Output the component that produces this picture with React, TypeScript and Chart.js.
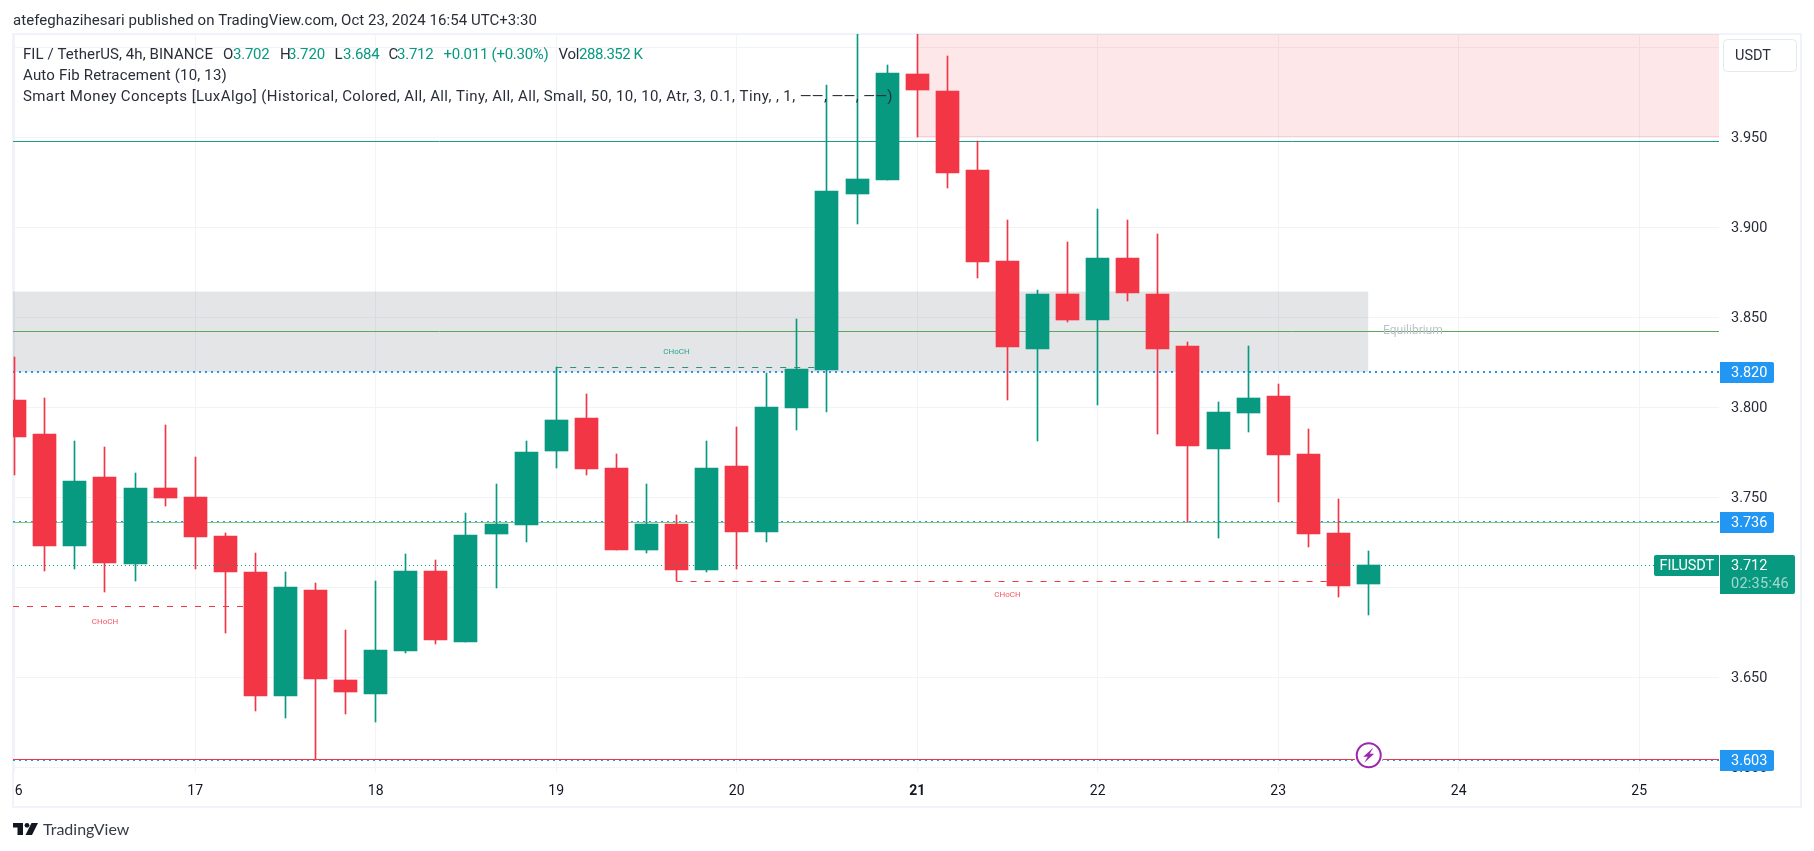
import React, { useEffect, useRef } from "react";
import { Chart, registerables } from "chart.js";

Chart.register(...registerables);

const opens = [3.804,3.7852,3.7229,3.7613,3.7129,3.7552,3.7502,3.7285,3.7085,3.6396,3.6985,3.6485,3.6407,3.6646,3.7091,3.6696,3.7296,3.7346,3.7757,3.794,3.7663,3.7207,3.7352,3.7096,3.7674,3.7307,3.7996,3.8207,3.9185,3.9263,3.9852,3.9757,3.9318,3.8813,3.8324,3.8629,3.8485,3.8829,3.8629,3.834,3.7768,3.7968,3.8063,3.774,3.7302,3.7018];
const closes = [3.7835,3.7229,3.759,3.7135,3.7552,3.7496,3.7279,3.7085,3.6396,3.7002,3.6491,3.6418,3.6652,3.7091,3.6707,3.7291,3.7352,3.7752,3.7929,3.7657,3.7207,3.7352,3.7096,3.7663,3.7307,3.8002,3.8213,3.9202,3.9268,3.9857,3.9763,3.9302,3.8807,3.8335,3.8629,3.8485,3.8829,3.8635,3.8324,3.7785,3.7974,3.8052,3.7735,3.7296,3.7007,3.7124];
const highs = [3.8279,3.8051,3.7813,3.7779,3.7635,3.7902,3.7724,3.7302,3.7191,3.7085,3.7024,3.6763,3.7035,3.7185,3.7152,3.7413,3.7574,3.7813,3.8222,3.8074,3.7741,3.7574,3.7402,3.7813,3.789,3.819,3.849,3.979,4.02,3.9901,4.02,3.9952,3.9478,3.904,3.8652,3.8918,3.9102,3.904,3.8963,3.8363,3.8029,3.834,3.8129,3.7879,3.749,3.7202];
const lows = [3.7624,3.709,3.7102,3.6974,3.7035,3.7452,3.7102,3.6746,3.6313,3.6274,3.6041,3.6296,3.6252,3.6635,3.6685,3.6696,3.6996,3.7252,3.7663,3.7624,3.7207,3.7191,3.7033,3.7085,3.7102,3.7252,3.7874,3.7974,3.9018,3.9263,3.9501,3.9218,3.8718,3.804,3.7813,3.8474,3.8013,3.859,3.7852,3.7363,3.7274,3.7863,3.7474,3.7224,3.6946,3.6846];

const dayTicks = [0, 6, 12, 18, 24, 30, 36, 42, 48, 54];
const dayLabels = ["16", "17", "18", "19", "20", "21", "22", "23", "24", "25"];
const priceTicks = [3.6, 3.65, 3.7, 3.75, 3.8, 3.85, 3.9, 3.95, 4.0];

const X_MIN = -0.0565;
const X_MAX = 56.6533;
const Y_MIN = 3.59739;
const Y_MAX = 4.00739;

const TEAL = "#089981";
const RED = "#f23645";
const BLUE = "#2196f3";
const INK = "#2a2e39";
const FONT = "Roboto";

const blueLevels = [3.8196, 3.7363, 3.6041];
const blueLabels = ["3.820", "3.736", "3.603"];

const chochLabels = [
  { text: "CHoCH", x: 3.0, y: 3.6805, color: RED },
  { text: "CHoCH", x: 22.0, y: 3.8305, color: TEAL },
  { text: "CHoCH", x: 33.0, y: 3.6958, color: RED },
];

const hLine = (x0: number, x1: number, y: number, color: string, extra: any = {}) => ({
  type: "line",
  data: [{ x: x0, y }, { x: x1, y }],
  borderColor: color,
  borderWidth: 1,
  pointRadius: 0,
  tension: 0,
  order: 5,
  fill: false,
  ...extra,
});

const crispPlugin = {
  id: "crisp",
  afterDatasetsUpdate(chart: any) {
    chart.data.datasets.forEach((ds: any, i: number) => {
      const meta = chart.getDatasetMeta(i);
      if (ds.type === "line") {
        meta.data.forEach((p: any) => {
          p.y = ds.evenWidth ? Math.round(p.y) : Math.floor(p.y) + 0.5;
        });
      } else {
        meta.data.forEach((b: any) => {
          b.x = Math.floor(b.x) + 0.5;
          b.y = Math.round(b.y);
          b.base = Math.round(b.base);
        });
      }
    });
  },
};

function rr(ctx: any, x: number, y: number, w: number, h: number, r: any) {
  ctx.beginPath();
  ctx.roundRect(x, y, w, h, r);
  ctx.fill();
}

// writes a string so that it spans exactly x0..x1
function fit(ctx: any, text: string, x0: number, x1: number, y: number) {
  ctx.letterSpacing = "0px";
  const w = ctx.measureText(text).width;
  ctx.letterSpacing = `${(x1 - x0 - w) / text.length}px`;
  ctx.fillText(text, x0, y);
  ctx.letterSpacing = "0px";
}

const paperPlugin = {
  id: "paper",
  beforeDraw(chart: any) {
    const { ctx, width, height } = chart;
    ctx.save();
    ctx.fillStyle = "#ffffff";
    ctx.fillRect(0, 0, width, height);
    ctx.strokeStyle = "#f0f3fa";
    ctx.lineWidth = 2;
    ctx.strokeRect(13, 34, 1788, 773);
    ctx.restore();
  },
  afterDraw(chart: any) {
    const { ctx, scales } = chart;
    const xs = scales.x;
    const ys = scales.y;
    ctx.save();
    ctx.textBaseline = "middle";

    // clip of the first date label
    ctx.fillStyle = "#ffffff";
    ctx.fillRect(0, 774, 12, 30);
    ctx.fillStyle = "#f0f3fa";
    ctx.fillRect(12, 774, 2, 30);

    // top caption
    ctx.textAlign = "left";
    ctx.fillStyle = INK;
    ctx.font = `15px ${FONT}`;
    fit(ctx, "atefeghazihesari published on TradingView.com, Oct 23, 2024 16:54 UTC+3:30", 13, 537, 21);

    // legend
    const legend: [string, number, number, string][] = [
      ["FIL / TetherUS, 4h, BINANCE", 23, 213, INK],
      ["O", 223, 233, INK], ["3.702", 233, 269.5, TEAL],
      ["H", 280, 288, INK], ["3.720", 288, 325, TEAL],
      ["L", 334.5, 343, INK], ["3.684", 343, 379.5, TEAL],
      ["C", 388.5, 397, INK], ["3.712", 397, 433.5, TEAL],
      ["+0.011 (+0.30%)", 443.5, 548.5, TEAL],
      ["Vol", 558.5, 579, INK], ["288.352 K", 579, 642.5, TEAL],
    ];
    legend.forEach(([t, x0, x1, c]) => {
      ctx.fillStyle = c;
      fit(ctx, t, x0, x1, 55);
    });
    ctx.fillStyle = INK;
    fit(ctx, "Auto Fib Retracement (10, 13)", 23, 227, 76);
    fit(ctx, "Smart Money Concepts [LuxAlgo] (Historical, Colored, All, All, Tiny, All, All, Small, 50, 10, 10, Atr, 3, 0.1, Tiny, , 1, ——, ——, ——)", 23, 893, 97);

    // structure labels
    ctx.textAlign = "center";
    ctx.font = `8px ${FONT}`;
    chochLabels.forEach((l) => {
      ctx.fillStyle = l.color;
      ctx.globalAlpha = 0.85;
      ctx.fillText(l.text, xs.getPixelForValue(l.x), ys.getPixelForValue(l.y));
    });
    ctx.globalAlpha = 1;

    ctx.textAlign = "left";
    ctx.font = `12px ${FONT}`;
    ctx.fillStyle = "#bfc2ca";
    ctx.fillText("Equilibrium", 1383, 331);

    // currency box
    ctx.fillStyle = "#ffffff";
    ctx.strokeStyle = "#e6e8ef";
    ctx.lineWidth = 1;
    ctx.beginPath();
    ctx.roundRect(1723.5, 39.5, 73, 32, 4);
    ctx.fill();
    ctx.stroke();
    ctx.fillStyle = INK;
    ctx.font = `14.5px ${FONT}`;
    ctx.fillText("USDT", 1735, 56);

    // price tags
    blueLevels.forEach((lvl, i) => {
      const y = Math.round(ys.getPixelForValue(lvl));
      ctx.fillStyle = BLUE;
      rr(ctx, 1720, y - 10, 54, 21, [0, 2, 2, 0]);
      ctx.fillStyle = "#ffffff";
      ctx.fillText(blueLabels[i], 1731, y + 1.5);
    });

    const py = 565;
    ctx.fillStyle = TEAL;
    rr(ctx, 1654, py - 10, 65, 21, [2, 0, 0, 2]);
    rr(ctx, 1720, py - 10, 75, 39, [0, 2, 2, 0]);
    ctx.fillStyle = "#ffffff";
    fit(ctx, "FILUSDT", 1659.5, 1714, py + 1.5);
    ctx.fillText("3.712", 1731, py + 1.5);
    ctx.fillStyle = "rgba(255,255,255,0.62)";
    fit(ctx, "02:35:46", 1731, 1789, py + 19.5);

    // lightning marker
    const cx = xs.getPixelForValue(45) + 0.3;
    const cy = ys.getPixelForValue(3.6067);
    ctx.fillStyle = "#ffffff";
    ctx.beginPath();
    ctx.arc(cx, cy, 14.5, 0, Math.PI * 2);
    ctx.fill();
    ctx.strokeStyle = "#9c27b0";
    ctx.lineWidth = 2;
    ctx.beginPath();
    ctx.arc(cx, cy, 12, 0, Math.PI * 2);
    ctx.stroke();
    ctx.fillStyle = "#9c27b0";
    ctx.beginPath();
    [[4.5, -7.5], [-5.5, 1.5], [-1, 1.5], [-4.5, 7.5], [5.5, -1.5], [1, -1.5]].forEach(([dx, dy], i) =>
      i ? ctx.lineTo(cx + dx, cy + dy) : ctx.moveTo(cx + dx, cy + dy)
    );
    ctx.closePath();
    ctx.fill();

    // brand mark
    ctx.fillStyle = "#131722";
    ctx.fillRect(13, 823, 10, 4.5);
    ctx.fillRect(17.5, 823, 5.5, 12);
    ctx.beginPath();
    ctx.arc(27, 825.3, 2.4, 0, Math.PI * 2);
    ctx.fill();
    ctx.beginPath();
    ctx.moveTo(31.5, 823);
    ctx.lineTo(38, 823);
    ctx.lineTo(32, 835);
    ctx.lineTo(25.5, 835);
    ctx.closePath();
    ctx.fill();
    ctx.fillStyle = "#363a45";
    ctx.font = `16px Lato`;
    ctx.textAlign = "left";
    ctx.fillText("TradingView", 43, 830);
    ctx.restore();
  },
};

export default function App() {
  const ref = useRef<HTMLCanvasElement>(null);
  useEffect(() => {
    if (!ref.current) return;
    const idx = opens.map((_, i) => i);
    const colors = idx.map((i) => (closes[i] >= opens[i] ? TEAL : RED));
    const chart = new Chart(ref.current, {
      type: "bar",
      data: {
        datasets: [
          {
            type: "bar",
            data: idx.map((i) => ({ x: i, y: [Math.min(opens[i], closes[i]), Math.max(opens[i], closes[i])] })),
            backgroundColor: colors,
            barThickness: 23,
            grouped: false,
            order: 1,
          },
          {
            type: "bar",
            data: idx.map((i) => ({ x: i, y: [lows[i], highs[i]] })),
            backgroundColor: colors,
            barThickness: 1,
            grouped: false,
            order: 2,
          },
          // supply and equilibrium zones
          hLine(30, X_MAX, 3.9504, "rgba(242,54,69,0.2)", { fill: "end", backgroundColor: "rgba(242,54,69,0.12)", order: 9 }),
          hLine(X_MIN, 45, 3.8646, "rgba(0,0,0,0)", { fill: { value: 3.8196 }, backgroundColor: "rgba(120,123,134,0.2)", order: 9 }),
          // fib / swing levels
          hLine(X_MIN, X_MAX, 3.94767, "#1f9c86"),
          hLine(X_MIN, X_MAX, 3.8421, "#5ba75f"),
          hLine(X_MIN, X_MAX, 3.7362, "#7fc98a", { order: 4 }),
          hLine(X_MIN, X_MAX, 3.6043, RED, { order: 4 }),
          ...blueLevels.map((v) =>
            hLine(X_MIN, X_MAX, v, BLUE, { borderWidth: 2, borderDash: [2, 4], evenWidth: true, order: 6 })
          ),
          // structure breaks
          hLine(X_MIN, 8, 3.6893, RED, { borderDash: [6, 8] }),
          hLine(22, 44, 3.7032, RED, { borderDash: [6, 8] }),
          hLine(18, 27, 3.8221, "#2f8f7c", { borderDash: [6, 8] }),
          // last price
          hLine(X_MIN, X_MAX, 3.7121, TEAL, { borderDash: [1, 3], order: 0 }),
        ] as any,
      },
      options: {
        responsive: false,
        animation: false,
        events: [],
        layout: { autoPadding: false, padding: { left: 13, right: 13, top: 34, bottom: 44 } },
        plugins: { legend: { display: false }, tooltip: { enabled: false }, title: { display: false } },
        scales: {
          x: {
            type: "linear",
            offset: false,
            min: X_MIN,
            max: X_MAX,
            afterBuildTicks: (s: any) => { s.ticks = dayTicks.map((value) => ({ value })); },
            afterFit: (s: any) => { s.height = 35; s.paddingLeft = 0; s.paddingRight = 0; },
            grid: { color: "#f2f3f6", drawTicks: false, offset: false },
            border: { display: false },
            ticks: {
              autoSkip: false,
              maxRotation: 0,
              padding: 11,
              color: "#131722",
              font: (c: any) => ({ family: FONT, size: 14, weight: c.tick && c.tick.value === 30 ? "bold" : "normal" }),
              callback: (v: any) => dayLabels[dayTicks.indexOf(v)],
            },
          },
          y: {
            type: "linear",
            position: "right",
            min: Y_MIN,
            max: Y_MAX,
            afterBuildTicks: (s: any) => { s.ticks = priceTicks.map((value) => ({ value })); },
            afterFit: (s: any) => { s.width = 82; s.paddingTop = 0; s.paddingBottom = 0; },
            grid: { color: "#f2f3f6", drawTicks: false },
            border: { display: false },
            ticks: {
              autoSkip: false,
              padding: 12,
              labelOffset: 1.5,
              color: INK,
              font: { family: FONT, size: 14.5 },
              callback: (v: any) => Number(v).toFixed(3),
            },
          },
        },
      } as any,
      plugins: [crispPlugin, paperPlugin],
    } as any);
    return () => chart.destroy();
  }, []);
  return (
    <div>
      <canvas ref={ref} width={1814} height={851} style={{ position: "fixed", left: 0, top: 0, width: 1814, height: 851 }} />
    </div>
  );
}
